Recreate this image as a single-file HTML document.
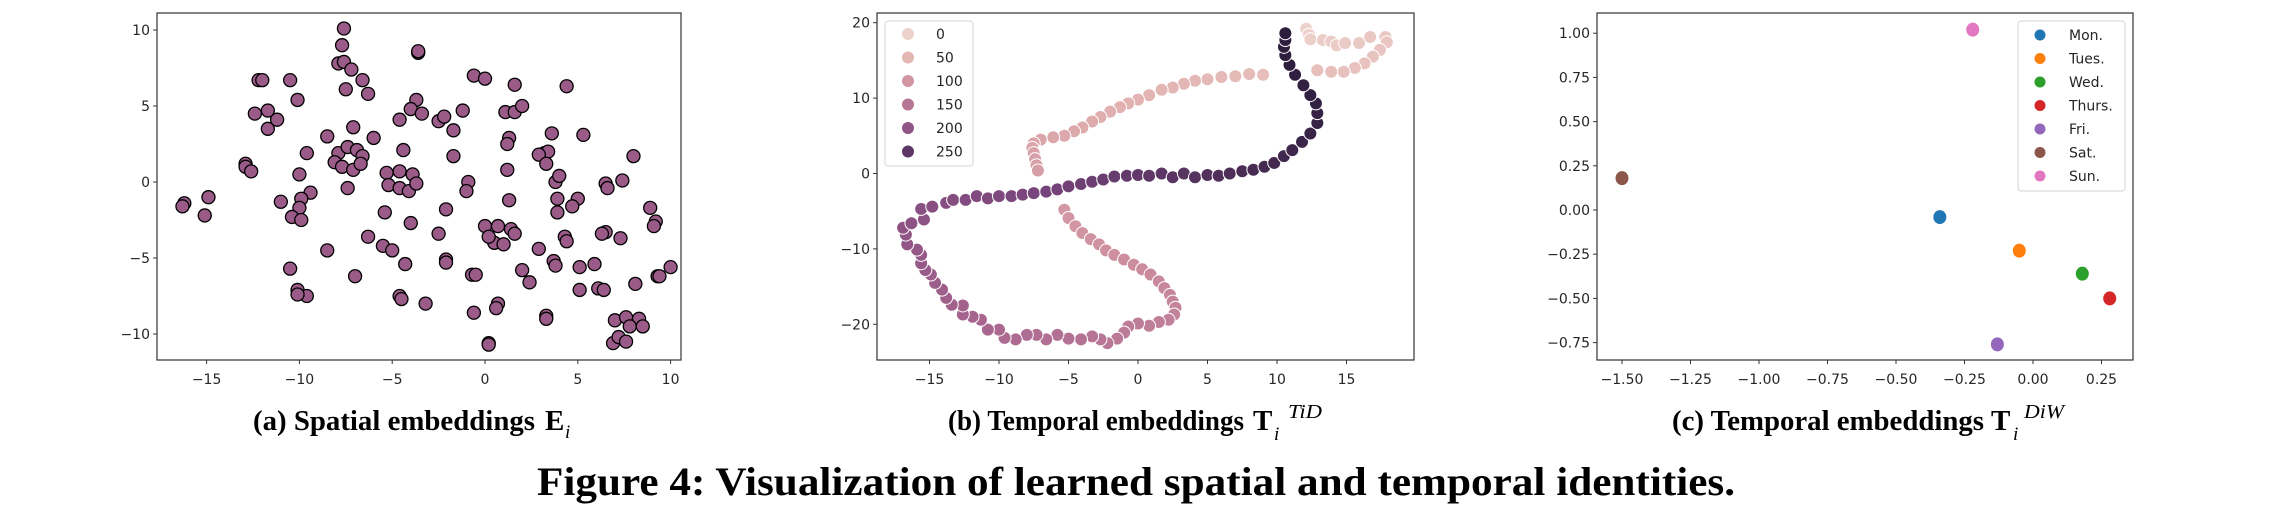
<!DOCTYPE html>
<html><head><meta charset="utf-8">
<style>
html,body{margin:0;padding:0;background:#fff;}
svg{display:block;}
.tick{font-family:"DejaVu Sans","Liberation Sans",sans-serif;font-size:14px;fill:#262626;}
.cap{font-family:"Liberation Serif",serif;font-weight:bold;fill:#000;}
</style></head>
<body>
<svg id="fig" width="2281" height="518" viewBox="0 0 2281 518" xmlns="http://www.w3.org/2000/svg">
  <g id="pa"></g>
  <g id="pb"></g>
  <g id="pc"></g>
  <text class="cap" x="253" y="430" font-size="29" textLength="282" lengthAdjust="spacingAndGlyphs">(a) Spatial embeddings</text>
  <text class="cap" x="545" y="430" font-size="29">E</text>
  <text x="565" y="438" font-size="19" font-style="italic" font-family="Liberation Serif,serif">i</text>
  <text class="cap" x="948" y="430" font-size="29" textLength="296" lengthAdjust="spacingAndGlyphs">(b) Temporal embeddings</text>
  <text class="cap" x="1253" y="430" font-size="29">T</text>
  <text x="1274" y="440" font-size="19" font-style="italic" font-family="Liberation Serif,serif">i</text>
  <text x="1288" y="418" font-size="20" font-style="italic" font-family="Liberation Serif,serif" textLength="34" lengthAdjust="spacingAndGlyphs">TiD</text>
  <text class="cap" x="1672" y="430" font-size="29" textLength="312" lengthAdjust="spacingAndGlyphs">(c) Temporal embeddings</text>
  <text class="cap" x="1991" y="430" font-size="29">T</text>
  <text x="2013" y="440" font-size="19" font-style="italic" font-family="Liberation Serif,serif">i</text>
  <text x="2024" y="418" font-size="20" font-style="italic" font-family="Liberation Serif,serif" textLength="40" lengthAdjust="spacingAndGlyphs">DiW</text>
  <text class="cap" x="537" y="495" font-size="40" textLength="1198" lengthAdjust="spacingAndGlyphs">Figure 4: Visualization of learned spatial and temporal identities.</text>
</svg>
<script>
// ---- Panel (a) data ----
const spX = [-7.6,-7.7,-7.9,-7.6,-7.2,-6.6,-7.5,-6.3,-3.6,-3.6,-0.6,0.0,1.6,4.4,-12.2,-12.0,-10.5,-10.1,-12.4,-11.7,-11.7,-11.2,-3.7,-4.0,-3.4,-4.6,-2.5,-2.2,-1.2,-1.7,1.1,1.6,2.0,1.3,1.2,3.6,5.3,-7.1,-8.5,-6.0,-9.6,-7.9,-7.4,-6.9,-6.6,-8.1,-7.7,-7.1,-6.7,-12.9,-12.9,-12.6,-10.0,-4.4,-5.3,-4.6,-3.9,-5.2,-4.6,-4.1,-3.7,-7.4,-9.4,-9.9,-11.0,-10.0,-10.4,-9.9,-16.2,-16.3,-14.9,-15.1,-1.7,-0.9,-1.0,1.2,1.3,3.2,3.4,2.9,3.3,3.8,4.0,3.9,3.9,5.0,4.7,6.5,6.6,7.4,8.0,8.9,9.2,9.1,-5.4,-4.0,-2.1,-6.3,-5.5,-5.0,-4.3,-2.5,-2.1,-2.1,0.0,0.7,1.4,1.6,0.5,1.0,0.2,7.3,4.3,4.4,2.9,3.7,3.8,6.5,6.3,5.9,5.1,10.0,9.3,9.4,-8.5,-10.5,-7.0,-0.7,-0.5,2.0,2.4,8.1,-10.1,-9.6,-10.1,-4.6,-4.5,-3.2,-0.6,0.7,0.6,3.3,3.3,5.1,6.1,6.4,7.0,7.6,8.3,8.5,7.8,6.9,7.2,7.6,0.2,0.2];
const spY = [10.1,9.0,7.8,7.9,7.4,6.7,6.1,5.8,8.5,8.6,7.0,6.8,6.4,6.3,6.7,6.7,6.7,5.4,4.5,4.7,3.5,4.1,5.4,4.8,4.5,4.1,4.0,4.3,4.7,3.4,4.6,4.6,5.0,2.9,2.5,3.2,3.1,3.6,3.0,2.9,1.9,1.9,2.3,2.1,1.7,1.3,1.0,0.8,1.2,1.2,1.0,0.7,0.5,2.1,0.6,0.7,0.5,-0.2,-0.4,-0.6,-0.1,-0.4,-0.7,-1.1,-1.3,-1.7,-2.3,-2.5,-1.4,-1.6,-1.0,-2.2,1.7,0.0,-0.6,0.8,-1.2,1.9,2.0,1.8,1.2,0.0,0.4,-1.1,-2.0,-1.1,-1.6,-0.1,-0.4,0.1,1.7,-1.7,-2.6,-2.9,-2.0,-2.7,-1.8,-3.6,-4.2,-4.5,-5.4,-3.4,-5.1,-5.3,-2.9,-2.9,-3.1,-3.4,-4.0,-4.1,-3.6,-3.7,-3.6,-3.9,-4.4,-5.2,-5.5,-3.3,-3.4,-5.4,-5.6,-5.6,-6.2,-6.2,-4.5,-5.7,-6.2,-6.1,-6.1,-5.8,-6.6,-6.7,-7.1,-7.5,-7.4,-7.5,-7.7,-8.0,-8.6,-8.0,-8.3,-8.8,-9.0,-7.1,-7.0,-7.1,-9.1,-8.9,-9.0,-9.5,-9.5,-10.6,-10.2,-10.5,-10.6,-10.7];
const aXTicks = [-15,-10,-5,0,5,10];
const aYTicks = [-10,-5,0,5,10];

// ---- Panel (b) data ----
const tidX = [12.1,12.3,12.4,13.3,13.9,14.3,14.9,15.9,16.7,17.8,17.9,17.4,16.9,16.3,15.6,14.8,13.9,12.9,
 9.0,8.0,7.0,6.0,5.0,4.1,3.3,2.5,1.7,0.8,0.0,-0.7,-1.3,-2.0,-2.7,-3.3,-4.0,-4.6,-5.3,-6.1,-7.0,-7.5,-7.6,-7.5,-7.4,-7.3,-7.2,
 -5.3,-5.0,-4.5,-4.0,-3.4,-2.8,-2.3,-1.7,-1.0,-0.3,0.3,0.9,1.5,1.9,2.3,2.5,2.7,2.6,2.2,1.5,0.8,0.0,-0.7,-1.0,-1.5,-2.2,-2.7,-3.3,-4.1,-5.0,-5.8,-6.6,-7.3,-8.0,-8.8,-9.6,-10.0,-10.8,-11.3,-11.9,-12.6,-12.6,-13.4,-13.8,-14.1,-14.6,-14.9,-15.3,-15.6,-15.6,-15.9,-16.6,-16.7,-16.9,-16.3,-15.4,-15.6,-14.8,-13.8,-13.3,-12.4,-11.6,-10.8,-10.0,-9.1,-8.3,-7.5,-6.6,-5.8,-5.0,-4.1,-3.3,-2.5,-1.7,-0.8,0.0,0.8,1.7,2.5,3.3,4.1,5.0,5.8,6.6,7.5,8.3,9.1,9.8,10.5,11.1,11.8,12.4,12.9,12.9,12.8,12.4,11.9,11.3,10.9,10.6,10.5,10.6,10.6];
const tidY = [19.2,18.4,17.8,17.7,17.5,17.0,17.3,17.3,18.1,18.1,17.4,16.4,15.5,14.6,14.0,13.5,13.5,13.7,
 13.1,13.2,12.9,12.8,12.5,12.3,11.9,11.4,11.1,10.4,9.8,9.3,8.8,8.2,7.5,6.9,6.1,5.6,5.0,4.8,4.5,4.0,3.4,2.7,1.9,1.1,0.4,
 -4.8,-5.9,-7.0,-7.9,-8.7,-9.4,-10.2,-10.8,-11.4,-12.1,-12.7,-13.4,-14.3,-15.2,-16.1,-17.0,-17.8,-18.7,-19.4,-19.7,-20.2,-19.9,-20.3,-21.1,-21.9,-22.5,-22.0,-21.6,-22.0,-21.9,-21.4,-22.0,-21.4,-21.4,-22.0,-21.8,-20.7,-20.7,-19.4,-19.0,-18.7,-17.5,-17.4,-16.5,-15.4,-14.5,-13.4,-12.8,-11.9,-10.8,-10.1,-9.4,-8.1,-7.2,-6.6,-6.1,-4.7,-4.4,-3.9,-3.5,-3.5,-3.0,-3.3,-3.0,-3.0,-2.8,-2.6,-2.4,-2.1,-1.7,-1.4,-1.1,-0.8,-0.4,-0.3,-0.2,-0.3,0.0,-0.5,0.0,-0.5,-0.2,-0.3,0.0,0.3,0.5,0.9,1.4,2.3,3.1,4.2,5.3,6.7,8.0,9.3,10.4,11.7,13.1,14.4,15.7,16.8,17.7,18.6];
const tidHue = [0,2,4,6,8,10,12,14,16,18,20,22,24,26,28,30,32,34,
 36,38,40,42,44,46,48,50,52,54,56,58,60,62,64,66,68,70,72,74,76,78,80,82,84,86,88,
 96,98,100,102,104,106,108,110,112,114,116,118,120,122,124,126,128,130,132,134,136,138,140,142,144,146,148,150,152,154,156,158,160,162,164,166,168,170,172,174,176,178,180,182,184,186,188,190,192,194,196,198,200,202,204,206,208,210,212,214,216,218,220,222,224,226,228,230,232,234,236,238,240,242,244,246,248,250,252,254,256,258,260,262,264,266,268,270,272,274,276,278,280,281,282,283,284,285,286,287,287,287,287];
const bLegend = [0,50,100,150,200,250];
const bXTicks = [-15,-10,-5,0,5,10,15];
const bYTicks = [-20,-10,0,10,20];

// ---- Panel (c) data ----
const days = ["Mon.","Tues.","Wed.","Thurs.","Fri.","Sat.","Sun."];
const diwX = [-0.34,-0.05,0.18,0.28,-0.13,-1.50,-0.22];
const diwY = [-0.04,-0.23,-0.36,-0.50,-0.76,0.18,1.02];
const dayColors = ["#1f77b4","#ff7f0e","#2ca02c","#d62728","#9467bd","#8c564b","#e377c2"];
const cXTicks = [-1.5,-1.25,-1.0,-0.75,-0.5,-0.25,0.0,0.25];
const cYTicks = [-0.75,-0.5,-0.25,0.0,0.25,0.5,0.75,1.0];

const NS = "http://www.w3.org/2000/svg";
function mk(parent, tag, attrs) {
  const e = document.createElementNS(NS, tag);
  for (const k in attrs) e.setAttribute(k, attrs[k]);
  parent.appendChild(e);
  return e;
}
function fmt(v, d) {
  const s = Math.abs(v).toFixed(d);
  return (v < 0 ? "\u2212" : "") + s;
}
function axes(g, L, R, T, B, sx, sy, xt, yt, dec) {
  const f = mk(g, "rect", {x: L, y: T, width: R - L, height: B - T, fill: "none", stroke: "#333", "stroke-width": 1.2});
  
  
  xt.forEach(v => {
    const x = sx(v);
    const t = mk(g, "line", {x1: x, x2: x, y1: B, y2: B + 4, stroke: "#333", "stroke-width": 1});
    
    
    const l = mk(g, "text", {x: x, y: B + 24, "text-anchor": "middle", class: "tick"});
    l.textContent = fmt(v, dec);
    
    
  });
  yt.forEach(v => {
    const y = sy(v);
    const t = mk(g, "line", {x1: L - 4, x2: L, y1: y, y2: y, stroke: "#333", "stroke-width": 1});
    
    
    const l = mk(g, "text", {x: L - 7, y: y + 5, "text-anchor": "end", class: "tick"});
    l.textContent = fmt(v, dec);
    
    
  });
}

const stops = [[237,209,203],[226,178,176],[204,140,158],[168,102,143],[119,68,123],[45,30,62]];
function cmap(h) {
  const t = Math.max(0, Math.min(1, h / 287)) * (stops.length - 1);
  const i = Math.min(stops.length - 2, Math.floor(t)), f = t - i;
  const c = stops[i].map((a, k) => Math.round(a + (stops[i + 1][k] - a) * f));
  return "rgb(" + c.join(",") + ")";
}

(function () {
  const g = document.getElementById("pa");
  const sx = v => 485 + v * 18.56, sy = v => 182 - v * 15.2;
  axes(g, 157, 681, 13, 360, sx, sy, aXTicks, aYTicks, 0);
  spX.forEach((x, i) => {
    const c = mk(g, "circle", {cx: sx(x), cy: sy(spY[i]), r: 6.5, fill: "#9b5b89", stroke: "#000", "stroke-width": 1.3});
    
    
  });
})();

(function () {
  const g = document.getElementById("pb");
  const sx = v => 1138 + v * 13.9, sy = v => 173.5 - v * 7.54;
  axes(g, 877, 1414, 13, 360, sx, sy, bXTicks, bYTicks, 0);
  tidX.forEach((x, i) => {
    const c = mk(g, "circle", {cx: sx(x), cy: sy(tidY[i]), r: 6.5, fill: cmap(tidHue[i]), stroke: "#fff", "stroke-width": 1});
    
    
  });
  const lg = mk(g, "g", {});
  
  
  mk(lg, "rect", {x: 885, y: 21, width: 88, height: 145, rx: 3, fill: "#fff", "fill-opacity": 0.8, stroke: "#d6d6d6"});
  bLegend.forEach((v, i) => {
    const y = 34 + i * 23.5;
    const c = mk(lg, "circle", {cx: 908, cy: y, r: 6, fill: cmap(v)});
    
    
    const t = mk(lg, "text", {x: 936, y: y + 5, class: "tick"});
    t.textContent = v;
    
    
  });
})();

(function () {
  const g = document.getElementById("pc");
  const sx = v => 2033 + v * 274, sy = v => 210 - v * 176.8;
  axes(g, 1597, 2133, 13, 360, sx, sy, cXTicks, cYTicks, 2);
  diwX.forEach((x, i) => {
    const c = mk(g, "ellipse", {cx: sx(x), cy: sy(diwY[i]), rx: 6.5, ry: 7, fill: dayColors[i]});
    
    
  });
  const lg = mk(g, "g", {});
  
  
  mk(lg, "rect", {x: 2018, y: 21, width: 107, height: 170, rx: 3, fill: "#fff", "fill-opacity": 0.8, stroke: "#d6d6d6"});
  days.forEach((d, i) => {
    const y = 35 + i * 23.5;
    const c = mk(lg, "circle", {cx: 2040, cy: y, r: 5.5, fill: dayColors[i]});
    
    
    const t = mk(lg, "text", {x: 2069, y: y + 5, class: "tick"});
    t.textContent = d;
    
    
  });
})();
</script>
</body></html>
